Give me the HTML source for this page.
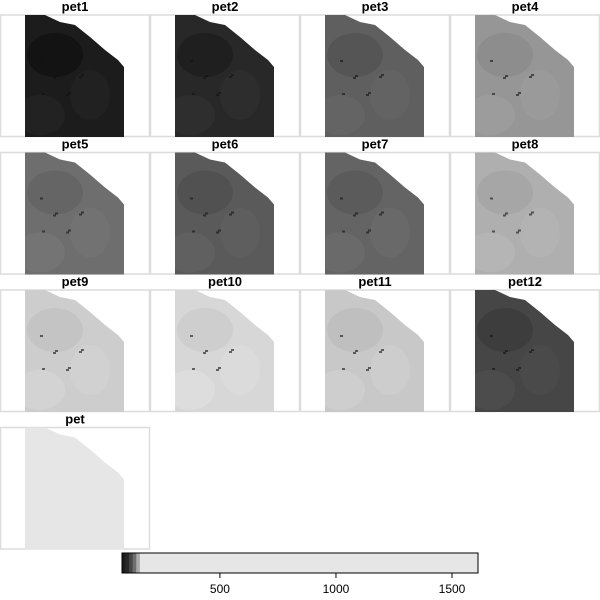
<!DOCTYPE html>
<html><head><meta charset="utf-8"><style>
html,body{margin:0;padding:0;background:#fff;width:600px;height:600px;overflow:hidden}
svg{display:block}
text{font-family:"Liberation Sans",sans-serif}
</style></head><body>
<svg id="chart" width="600" height="600"></svg>
<script>
const panelNames=["pet1","pet2","pet3","pet4","pet5","pet6","pet7","pet8","pet9","pet10","pet11","pet12","pet"];
const panelMeans=[78,117,297,477,346,281,314,559,657,690,641,215,1600];
const colorTicks=[500,1000,1500];
const cbMin=78, cbMax=1612;
const NS="http://www.w3.org/2000/svg";
const svg=document.getElementById("chart");
function mk(t,a,p){const e=document.createElementNS(NS,t);for(const k in a)e.setAttribute(k,a[k]);(p||svg).appendChild(e);return e;}
function grayFor(v){
  if(v>1000) return 230;
  const t=Math.min(1,Math.max(0,(v-cbMin)/(700-cbMin)));
  return Math.round(28+t*190);
}
const cx=x=>122+(x-cbMin)/(cbMax-cbMin)*356;
const shapeRel=[[0,0],[20,0],[35,7],[50,10],[65,22],[80,35],[93,45],[99,52],[99,122],[0,122]];
const defs=mk("defs",{});
panelNames.forEach((name,i)=>{
  const col=i%4,row=Math.floor(i/4);
  const x0=col*150,y0=15+row*137.5;
  const g=mk("g",{});
  
  
  mk("rect",{x:x0+0.5,y:y0,width:149,height:121.5,fill:"none",stroke:"#dcdcdc","stroke-width":1.5},g);
  const t=mk("text",{x:x0+75,y:y0-4,"text-anchor":"middle","font-size":13,"font-weight":"bold",fill:"#000"},g);
  t.textContent=name;
  
  
  const pts=shapeRel.map(p=>(x0+25+p[0])+","+(y0+p[1])).join(" ");
  const cp=mk("clipPath",{id:"cp"+i},defs);
  mk("polygon",{points:pts},cp);
  const gv=grayFor(panelMeans[i]);
  const m=mk("polygon",{points:pts,fill:`rgb(${gv},${gv},${gv})`},g);
  
  
  if(name!=="pet"){
    const cg=mk("g",{"clip-path":`url(#cp${i})`},g);
    const d=Math.max(0,gv-25), l=Math.min(235,gv+18);
    mk("ellipse",{cx:x0+55,cy:y0+40,rx:28,ry:22,fill:`rgb(${d},${d},${d})`,opacity:0.35},cg);
    mk("ellipse",{cx:x0+40,cy:y0+100,rx:25,ry:20,fill:`rgb(${l},${l},${l})`,opacity:0.35},cg);
    mk("ellipse",{cx:x0+90,cy:y0+80,rx:20,ry:25,fill:`rgb(${l},${l},${l})`,opacity:0.25},cg);
    for(let k=0;k<8;k++){mk("rect",{x:x0+40+(k*13)%50,y:y0+45+(k*17)%35,width:3,height:2,fill:"#111",opacity:0.6},cg);}
  }
});
const cb=mk("g",{});


const steps=[[78,28],[95,40],[110,70],[125,110],[140,170],[155,230]];
mk("rect",{x:122,y:553,width:356,height:20,fill:"#e6e6e6"},cb);
steps.forEach((s,j)=>{if(j<steps.length-1){const nx=steps[j+1][0];mk("rect",{x:cx(s[0]),y:553,width:cx(nx)-cx(s[0]),height:20,fill:`rgb(${s[1]},${s[1]},${s[1]})`},cb);}});
mk("rect",{x:122,y:553,width:356,height:20,fill:"none",stroke:"#000","stroke-width":1},cb);
colorTicks.forEach(v=>{
  mk("line",{x1:cx(v),x2:cx(v),y1:573,y2:578,stroke:"#000"},cb);
  const t=mk("text",{x:cx(v),y:593,"text-anchor":"middle","font-size":12,fill:"#000"},cb);
  t.textContent=v;
  
  
});
</script>
</body></html>
